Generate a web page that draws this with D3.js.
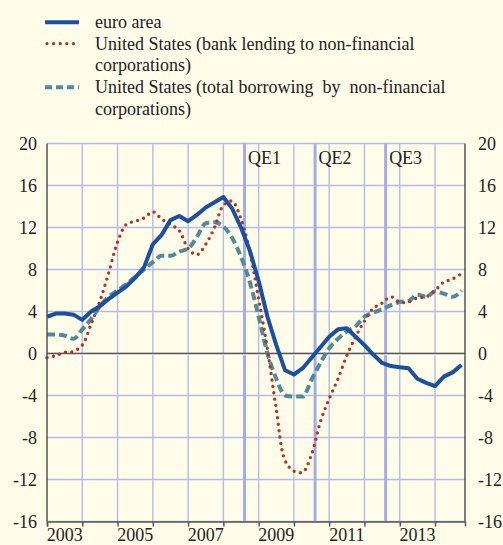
<!DOCTYPE html>
<html>
<head>
<meta charset="utf-8">
<script src="https://cdn.jsdelivr.net/npm/d3@7"></script>
<style>
  body { margin: 0; background: #fffde9; }
  svg { display: block; font-family: "Liberation Serif", "Times New Roman", serif; }
</style>
</head>
<body>
<div id="chart"></div>
<script>
// quarterly, 2003 Q1 .. 2014 Q4 (annual growth rates, %)
var quarters = d3.range(48).map((i) => 2003 + i * 0.25);

var euroArea = [
    3.5, 3.8, 3.8, 3.7, 3.2, 4.0, 4.5, 5.2, 5.8, 6.4, 7.2, 8.2,
    10.4, 11.3, 12.7, 13.1, 12.6, 13.2, 13.9, 14.4, 14.9, 13.8, 12.0, 9.8,
    6.9, 3.5, 0.8, -1.6, -2.0, -1.4, -0.4, 0.6, 1.6, 2.3, 2.4, 1.6,
    0.8, -0.1, -0.9, -1.2, -1.3, -1.4, -2.4, -2.8, -3.1, -2.2, -1.8, -1.1,
];
var usBankLending = [
    -0.4, -0.2, 0.1, 0.2, 0.8, 2.8, 5.0, 7.7, 10.6, 12.3, 12.6, 12.9,
    13.5, 12.8, 12.3, 11.7, 10.0, 9.4, 10.4, 12.0, 14.1, 14.5, 12.8, 9.7,
    5.2, 0.4, -5.3, -10.2, -11.2, -11.3, -9.6, -6.5, -4.3, -2.4, -0.2, 1.6,
    3.1, 4.3, 4.8, 5.4, 4.9, 4.9, 5.3, 5.4, 6.0, 6.8, 7.1, 7.6,
];
var usTotalBorrowing = [
    1.8, 1.8, 1.7, 1.4, 2.3, 3.3, 4.5, 5.4, 6.0, 6.6, 7.3, 8.0,
    8.7, 9.3, 9.3, 9.7, 10.0, 11.1, 12.4, 12.5, 12.1, 11.0, 9.2, 6.8,
    3.5, 0.0, -2.4, -4.0, -4.1, -4.1, -2.5, -0.9, 0.5, 1.4, 2.1, 2.6,
    3.5, 3.9, 4.2, 4.6, 4.9, 5.0, 5.6, 5.4, 5.9, 5.7, 5.4, 6.0,
];

var yTicks = [-16, -12, -8, -4, 0, 4, 8, 12, 16, 20];
var yearTicks = d3.range(2003, 2015);
var yearLabels = [2003, 2005, 2007, 2009, 2011, 2013];
var qeNames = ["QE1", "QE2", "QE3"];
var qeDates = [2008.6, 2010.6, 2012.6];

var seriesNames = [
    ["euro area"],
    ["United States (bank lending to non-financial", "corporations)"],
    ["United States (total borrowing  by  non-financial", "corporations)"],
];

function makeChart() {
    var width = 503,
        height = 545,
        margin = { top: 143.5, right: 38, bottom: 23.5, left: 47 },
        fontSize = 18,
        textColor = "#222";

    var svg = d3
        .select("#chart")
        .append("svg")
        .attr("width", width)
        .attr("height", height)
        .attr("font-family", "Liberation Serif, Times New Roman, serif");

    svg.append("rect").attr("width", width).attr("height", height).attr("fill", "#fffde9");

    var x = d3
        .scaleLinear()
        .domain([2003, 2014.85])
        .range([margin.left, width - margin.right]);
    var y = d3
        .scaleLinear()
        .domain([-16, 20])
        .range([height - margin.bottom, margin.top]);

    var grid = svg.append("g").attr("stroke", "#b3bce8").attr("stroke-width", 1.4);
    grid.selectAll(".hg")
        .data(yTicks)
        .enter()
        .append("line")
        .attr("x1", x.range()[0])
        .attr("x2", x.range()[1])
        .attr("y1", (d) => y(d))
        .attr("y2", (d) => y(d));
    grid.selectAll(".vg")
        .data(yearTicks.slice(1))
        .enter()
        .append("line")
        .attr("x1", (d) => x(d))
        .attr("x2", (d) => x(d))
        .attr("y1", y.range()[0])
        .attr("y2", y.range()[1]);

    // QE markers
    svg.selectAll(".qe")
        .data(qeDates)
        .enter()
        .append("line")
        .attr("x1", (d) => x(d))
        .attr("x2", (d) => x(d))
        .attr("y1", y.range()[0])
        .attr("y2", y.range()[1])
        .attr("stroke", "#a3afe2")
        .attr("stroke-width", 3);
    svg.selectAll(".qe-label")
        .data(qeNames)
        .enter()
        .append("text")
        .attr("x", (d, i) => x(qeDates[i]) + 3.5)
        .attr("y", margin.top + 20)
        .attr("font-size", fontSize)
        .attr("fill", textColor)
        .text((d) => d);

    // zero line
    svg.append("line")
        .attr("x1", x.range()[0])
        .attr("x2", x.range()[1])
        .attr("y1", y(0) + 1.2)
        .attr("y2", y(0) + 1.2)
        .attr("stroke", "#fff")
        .attr("stroke-width", 1.2);
    svg.append("line")
        .attr("x1", x.range()[0])
        .attr("x2", x.range()[1])
        .attr("y1", y(0))
        .attr("y2", y(0))
        .attr("stroke", "#555")
        .attr("stroke-width", 1.3);

    var line = d3
        .line()
        .x((d, i) => x(quarters[i]))
        .y((d) => y(d));

    svg.append("path")
        .datum(usTotalBorrowing)
        .attr("fill", "none")
        .attr("stroke", "#4e8b9c")
        .attr("stroke-width", 4)
        .attr("stroke-dasharray", "8,4")
        .attr("d", line.curve(d3.curveMonotoneX));

    svg.append("path")
        .datum(usBankLending)
        .attr("fill", "none")
        .attr("stroke", "#b0342c")
        .attr("stroke-width", 3.4)
        .attr("stroke-linecap", "round")
        .attr("stroke-dasharray", "0,6.4")
        .attr("d", line.curve(d3.curveCatmullRom));

    svg.append("path")
        .datum(euroArea)
        .attr("fill", "none")
        .attr("stroke", "#1b4f9f")
        .attr("stroke-width", 4)
        .attr("stroke-linejoin", "round")
        .attr("d", line.curve(d3.curveLinear));

    // axes
    var axisColor = "#555";
    svg.append("line")
        .attr("x1", x.range()[0]).attr("x2", x.range()[0])
        .attr("y1", y.range()[0]).attr("y2", y.range()[1])
        .attr("stroke", axisColor).attr("stroke-width", 1.5);
    svg.append("line")
        .attr("x1", x.range()[1]).attr("x2", x.range()[1])
        .attr("y1", y.range()[0]).attr("y2", y.range()[1])
        .attr("stroke", axisColor).attr("stroke-width", 1.5);

    var xAxis = svg
        .append("g")
        .attr("transform", "translate(0," + y.range()[0] + ")")
        .call(d3.axisBottom(x).tickValues(yearTicks).tickSize(5).tickFormat(""));
    xAxis.select(".domain").attr("stroke", axisColor).attr("stroke-width", 1.5);
    xAxis.selectAll(".tick line").attr("stroke", axisColor).attr("stroke-width", 1.5);

    // year labels, kept just inside the bottom edge
    svg.selectAll(".year")
        .data(yearLabels)
        .enter()
        .append("text")
        .attr("x", (d) => x(d + 0.5))
        .attr("y", y.range()[0] + 19)
        .attr("text-anchor", "middle")
        .attr("font-size", fontSize)
        .attr("fill", textColor)
        .text((d) => d);

    var yLeft = svg
        .append("g")
        .attr("transform", "translate(" + (x.range()[0] - 10) + ",0)")
        .call(d3.axisLeft(y).tickValues(yTicks).tickSize(0).tickPadding(0).tickFormat((d) => String(d)));
    var yRight = svg
        .append("g")
        .attr("transform", "translate(" + (x.range()[1] + 13) + ",0)")
        .call(d3.axisRight(y).tickValues(yTicks).tickSize(0).tickPadding(0).tickFormat((d) => String(d)));
    [yLeft, yRight].forEach((g) => {
        g.select(".domain").remove();
        g.attr("font-family", null).attr("font-size", null);
        g.selectAll("text")
            .attr("font-size", fontSize)
            .attr("fill", textColor);
    });

    // legend
    var legendStyles = [
        { color: "#1b4f9f", width: 4, dash: null, cap: "butt" },
        { color: "#b0342c", width: 3.4, dash: "0,6.6", cap: "round" },
        { color: "#4e8b9c", width: 4, dash: "7,4", cap: "butt" },
    ];
    var legendY = [22.3, 43.6, 87.2];
    var rowH = 21.7;
    var legend = svg.append("g");
    seriesNames.forEach((lines, i) => {
        var s = legendStyles[i];
        legend.append("line")
            .attr("x1", s.cap === "round" ? 47 : 45)
            .attr("x2", 79)
            .attr("y1", legendY[i])
            .attr("y2", legendY[i])
            .attr("stroke", s.color)
            .attr("stroke-width", s.width)
            .attr("stroke-linecap", s.cap)
            .attr("stroke-dasharray", s.dash);
        lines.forEach((t, j) => {
            legend.append("text")
                .attr("x", 95)
                .attr("y", legendY[i] + j * rowH + 6)
                .attr("font-size", fontSize)
                .attr("fill", textColor)
                .style("white-space", "pre")
                .text(t);
        });
    });
}

makeChart();
</script>
</body>
</html>
